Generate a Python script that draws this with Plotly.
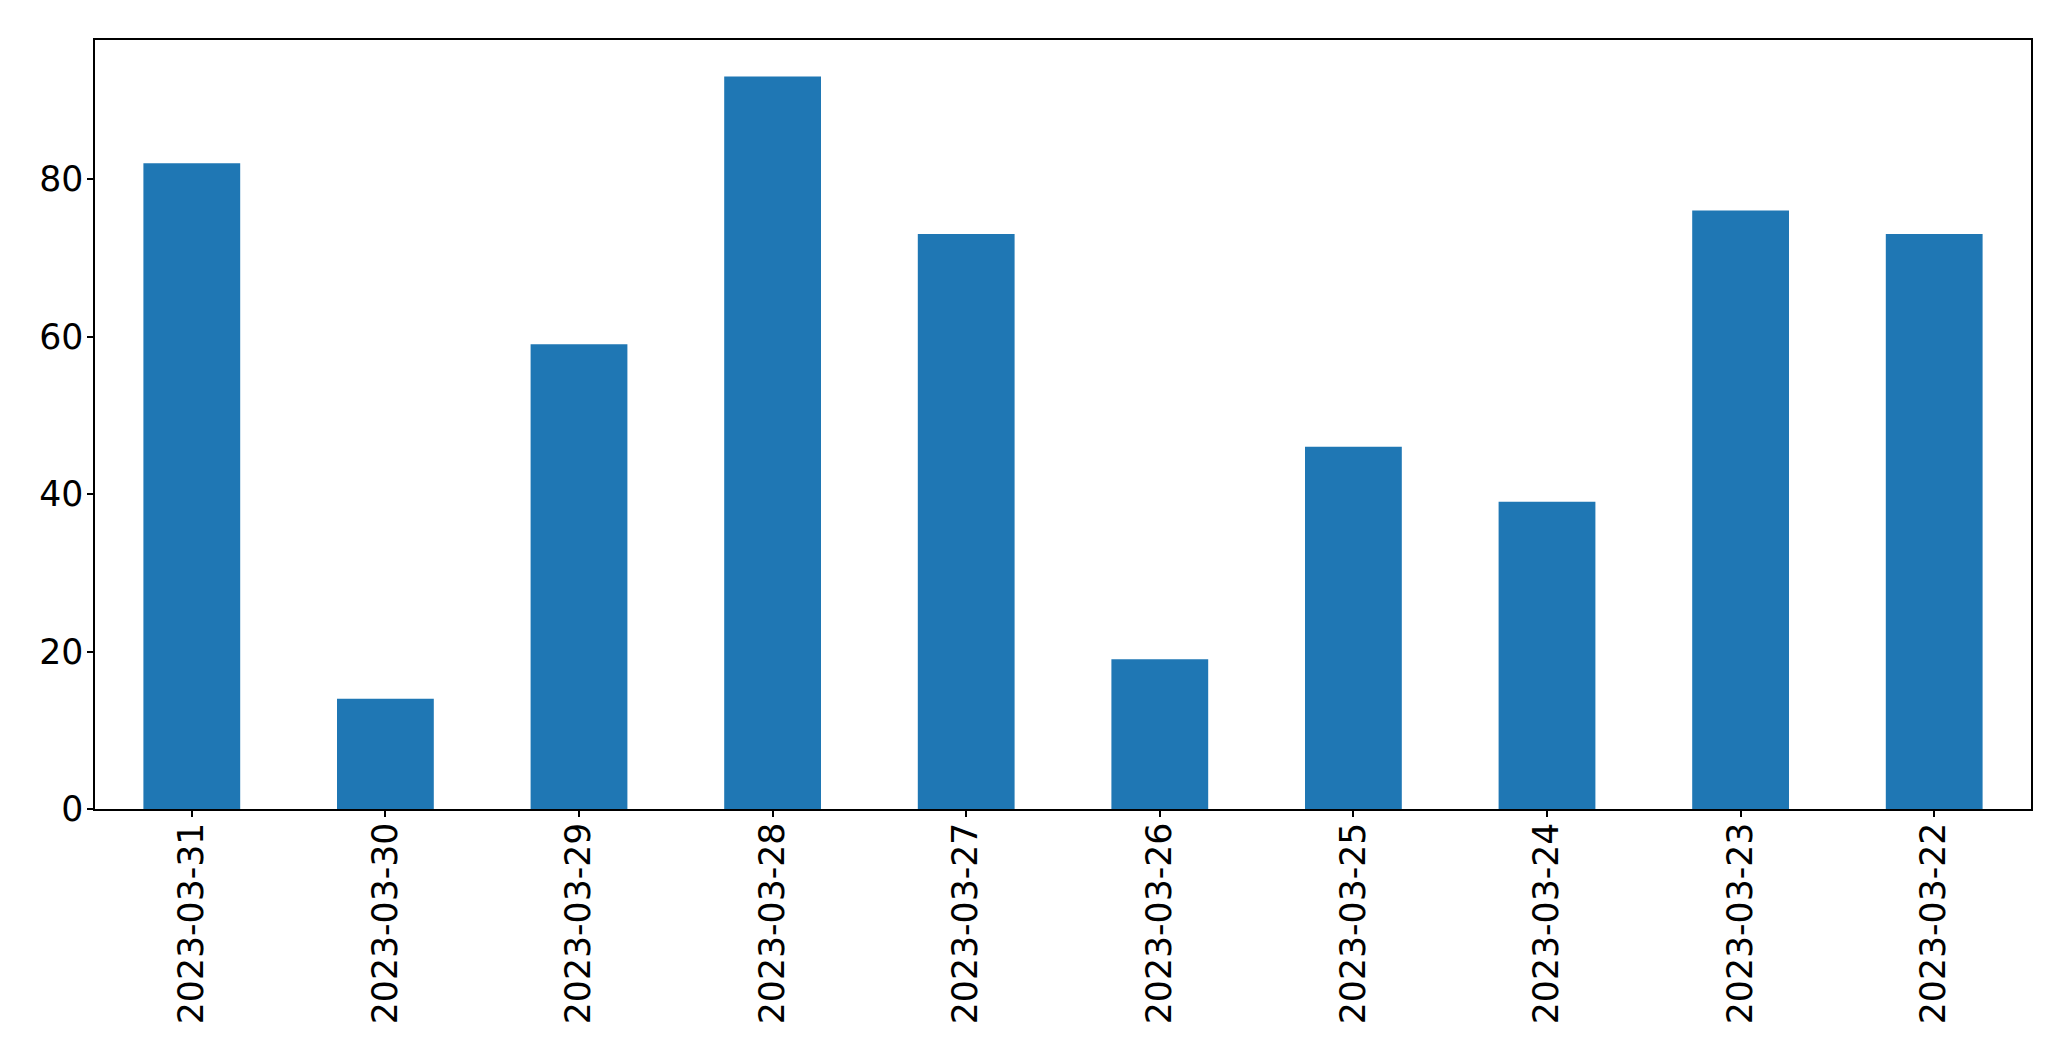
import plotly.graph_objects as go

dates = ["2023-03-31", "2023-03-30", "2023-03-29", "2023-03-28", "2023-03-27",
         "2023-03-26", "2023-03-25", "2023-03-24", "2023-03-23", "2023-03-22"]
values = [82, 14, 59, 93, 73, 19, 46, 39, 76, 73]

fig = go.Figure(go.Bar(x=dates, y=values, width=0.5, marker=dict(color="#1f77b4", line=dict(width=0))))

fig.update_layout(
    width=2071, height=1061,
    margin=dict(l=95, r=40, t=40, b=252, pad=0),
    paper_bgcolor="white", plot_bgcolor="white",
    font=dict(family="DejaVu Sans", size=34.7, color="black"),
    showlegend=False,
)
fig.update_xaxes(
    type="category", tickangle=-90, range=[-0.5, 9.5],
    showline=True, mirror=True, linecolor="black", linewidth=1.5,
    ticks="outside", ticklen=6, tickwidth=1.5, tickcolor="black",
    showgrid=False, tickfont=dict(size=34.7), zeroline=False,
    ticklabelstandoff=-8,
)
fig.update_yaxes(
    range=[0, 97.65], tickvals=[0, 20, 40, 60, 80],
    showline=True, mirror=True, linecolor="black", linewidth=1.5,
    ticks="outside", ticklen=6, tickwidth=1.5, tickcolor="black",
    showgrid=False, zeroline=False, tickfont=dict(size=34.7),
    ticklabelstandoff=-3,
)
fig.write_html("out.html")
